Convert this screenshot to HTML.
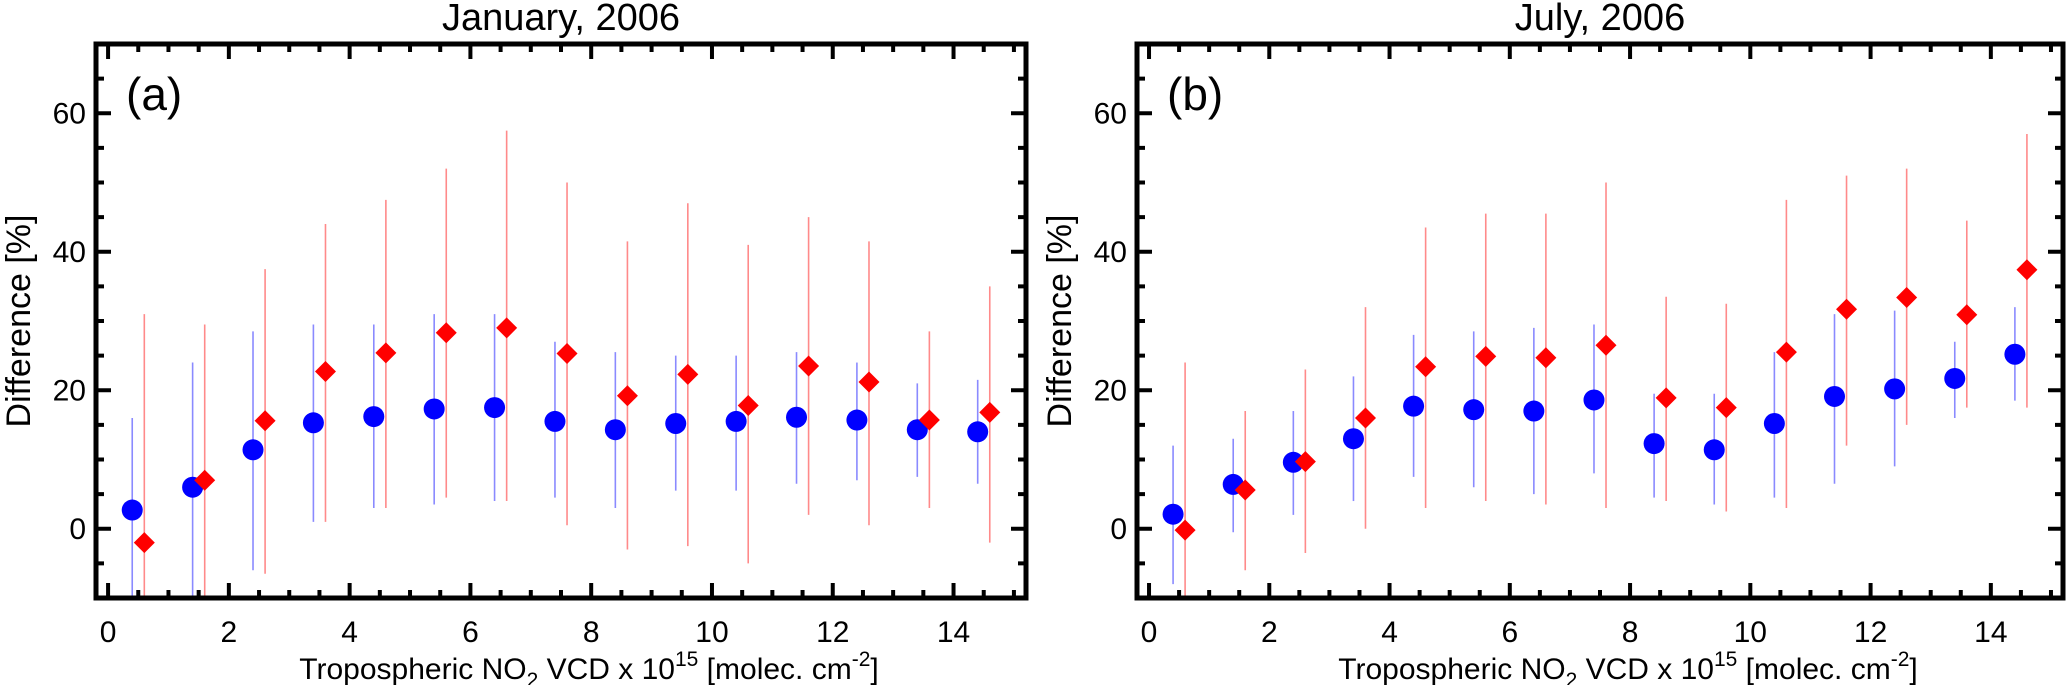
<!DOCTYPE html>
<html><head><meta charset="utf-8"><style>
body{margin:0;background:#fff}
svg{display:block;font-family:"Liberation Sans",sans-serif}
</style></head><body>
<svg id="chart" width="2067" height="685" xmlns="http://www.w3.org/2000/svg"></svg>
<script>
const xCatsBlue=[0.4,1.4,2.4,3.4,4.4,5.4,6.4,7.4,8.4,9.4,10.4,11.4,12.4,13.4,14.4];
const xCatsRed=[0.6,1.6,2.6,3.6,4.6,5.6,6.6,7.6,8.6,9.6,10.6,11.6,12.6,13.6,14.6];
const janBlue=[2.7,6.0,11.4,15.3,16.2,17.3,17.5,15.5,14.3,15.2,15.5,16.1,15.7,14.3,14.0];
const janBlueHi=[16,24,28.5,29.5,29.5,31,31,27,25.5,25,25,25.5,24,21,21.5];
const janBlueLo=[-10,-10,-6,1,3,3.5,4,4.5,3,5.5,5.5,6.5,7,7.5,6.5];
const janRed=[-2.0,7.0,15.6,22.7,25.4,28.3,29.0,25.3,19.2,22.3,17.8,23.5,21.2,15.7,16.8];
const janRedHi=[31,29.5,37.5,44,47.5,52,57.5,50,41.5,47,41,45,41.5,28.5,35];
const janRedLo=[-10,-10,-6.5,1,3,4.5,4,0.5,-3,-2.5,-5,2,0.5,3,-2];
const julBlue=[2.1,6.4,9.6,13.0,17.7,17.2,17.0,18.6,12.3,11.4,15.2,19.1,20.2,21.7,25.2];
const julBlueHi=[12,13,17,22,28,28.5,29,29.5,19.5,19.5,25.5,31,31.5,27,32];
const julBlueLo=[-8,-0.5,2,4,7.5,6,5,8,4.5,3.5,4.5,6.5,9,16,18.5];
const julRed=[-0.2,5.6,9.7,16.0,23.4,24.9,24.7,26.5,18.9,17.5,25.5,31.7,33.4,30.9,37.4];
const julRedHi=[24,17,23,32,43.5,45.5,45.5,50,33.5,32.5,47.5,51,52,44.5,57];
const julRedLo=[-10,-6,-3.5,0,3,4,3.5,3,4,2.5,3,12,15,17.5,17.5];
const xTicks=[0,2,4,6,8,10,12,14];
const yTicks=[0,20,40,60];

const NS="http://www.w3.org/2000/svg";
const svg=document.getElementById('chart');
function mk(tag,attrs,parent){const e=document.createElementNS(NS,tag);for(const k in attrs)e.setAttribute(k,attrs[k]);(parent||svg).appendChild(e);return e;}

function panel(L,R,T,B,title,label,blue,bHi,bLo,red,rHi,rLo,key){
  const g=mk('g',{});
  
  
  const xs=v=>L+(v+0.2)/15.4*(R-L);
  const ys=v=>B-(v+10)/80*(B-T);
  const clipId='clip-'+key;
  const cp=mk('clipPath',{id:clipId},g);mk('rect',{x:L,y:T,width:R-L,height:B-T},cp);
  const data=mk('g',{'clip-path':'url(#'+clipId+')'},g);
  
  
  xCatsBlue.forEach((x,i)=>{
    const l=mk('line',{x1:xs(x),x2:xs(x),y1:ys(bHi[i]),y2:ys(bLo[i]),stroke:'#8a8aff','stroke-width':1.6},data);
    
    
  });
  xCatsRed.forEach((x,i)=>{
    const l=mk('line',{x1:xs(x),x2:xs(x),y1:ys(rHi[i]),y2:ys(rLo[i]),stroke:'#ff8a8a','stroke-width':1.6},data);
    
    
  });
  xCatsBlue.forEach((x,i)=>{
    const c=mk('circle',{cx:xs(x),cy:ys(blue[i]),r:10.5,fill:'#0000ff'},data);
    
    
  });
  xCatsRed.forEach((x,i)=>{
    const cx=xs(x),cy=ys(red[i]),s=10.5;
    const p=mk('polygon',{points:`${cx},${cy-s} ${cx+s},${cy} ${cx},${cy+s} ${cx-s},${cy}`,fill:'#ff0000'},data);
    
    
  });
  const tk=mk('g',{stroke:'#000','stroke-width':4},g);
  
  
  for(let v=0;v<=15;v+=0.5){const x=xs(v);const len=(v%2===0)?15:8;
    mk('line',{x1:x,x2:x,y1:B,y2:B-len},tk);mk('line',{x1:x,x2:x,y1:T,y2:T+len},tk);}
  for(let v=-10;v<=70;v+=5){const y=ys(v);const len=(v%20===0)?15:8;
    mk('line',{x1:L,x2:L+len,y1:y,y2:y},tk);mk('line',{x1:R,x2:R-len,y1:y,y2:y},tk);}
  const fr=mk('rect',{x:L,y:T,width:R-L,height:B-T,fill:'none',stroke:'#000','stroke-width':5},g);
  
  
  xTicks.forEach(v=>{const t=mk('text',{x:xs(v),y:642,'font-size':30,'text-anchor':'middle'},g);t.textContent=v;
    
    });
  yTicks.forEach(v=>{const t=mk('text',{x:L-10,y:ys(v)+10,'font-size':30,'text-anchor':'end'},g);t.textContent=v;
    
    });
  const ti=mk('text',{x:(L+R)/2,y:30,'font-size':38,'text-anchor':'middle'},g);ti.textContent=title;
  
  
  const lb=mk('text',{x:L+30,y:110,'font-size':46},g);lb.textContent=label;
  
  
  const xt=mk('text',{x:(L+R)/2+28,y:679,'font-size':30,'text-anchor':'middle'},g);
  
  
  xt.innerHTML='Tropospheric NO<tspan font-size="21" dy="8">2</tspan><tspan dy="-8"> VCD x 10</tspan><tspan font-size="21" dy="-13">15</tspan><tspan dy="13"> [molec. cm</tspan><tspan font-size="21" dy="-13">-2</tspan><tspan dy="13">]</tspan>';
  const yt=mk('text',{x:0,y:0,'font-size':34,'text-anchor':'middle',transform:`translate(${L-66},${(T+B)/2}) rotate(-90)`},g);
  yt.textContent='Difference [%]';
  
  
}
panel(96,1026,44,598,'January, 2006','(a)',janBlue,janBlueHi,janBlueLo,janRed,janRedHi,janRedLo,'january');
panel(1137,2063,44,598,'July, 2006','(b)',julBlue,julBlueHi,julBlueLo,julRed,julRedHi,julRedLo,'july');
</script>
</body></html>
